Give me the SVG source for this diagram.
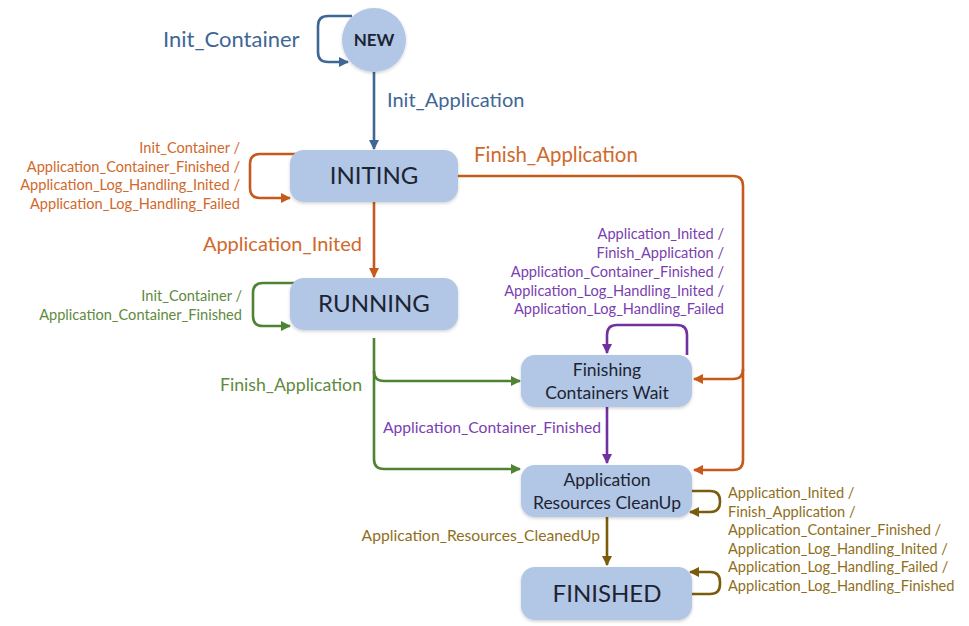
<svg xmlns="http://www.w3.org/2000/svg" width="969" height="626" viewBox="0 0 969 626">
<style>
text{font-family:Lato,"Liberation Sans",sans-serif}
.node{fill:#b2c6e5;filter:url(#sh)}
.nt{fill:#1c2433;text-anchor:middle}
.big{font-size:24px}
.mid{font-size:17.5px}
.e{fill:none;stroke-width:2.6;stroke-linejoin:round}
.blue{stroke:#3e6796}
.orange{stroke:#c55a1a}
.green{stroke:#4f8334}
.purple{stroke:#7030a0}
.brown{stroke:#7a5c0c}
.tb{fill:#3e6796}
.to{fill:#d0692c}
.tg{fill:#5e8b3e}
.tp{fill:#7a40b0}
.tw{fill:#8f6f1c}
.s{font-size:14.6px}
.r{text-anchor:end}
</style>
<defs>
<filter id="sh" x="-10%" y="-10%" width="120%" height="130%"><feDropShadow dx="0" dy="1.5" stdDeviation="1.5" flood-color="#000" flood-opacity="0.18"/></filter>
<marker id="ab" viewBox="0 0 10 10" refX="9" refY="5" markerWidth="4" markerHeight="4" orient="auto" markerUnits="strokeWidth"><path d="M0,0 L10,5 L0,10 z" fill="#3e6796"/></marker>
<marker id="ao" viewBox="0 0 10 10" refX="9" refY="5" markerWidth="4" markerHeight="4" orient="auto" markerUnits="strokeWidth"><path d="M0,0 L10,5 L0,10 z" fill="#c55a1a"/></marker>
<marker id="ag" viewBox="0 0 10 10" refX="9" refY="5" markerWidth="4" markerHeight="4" orient="auto" markerUnits="strokeWidth"><path d="M0,0 L10,5 L0,10 z" fill="#4f8334"/></marker>
<marker id="ap" viewBox="0 0 10 10" refX="9" refY="5" markerWidth="4" markerHeight="4" orient="auto" markerUnits="strokeWidth"><path d="M0,0 L10,5 L0,10 z" fill="#7030a0"/></marker>
<marker id="aw" viewBox="0 0 10 10" refX="9" refY="5" markerWidth="4" markerHeight="4" orient="auto" markerUnits="strokeWidth"><path d="M0,0 L10,5 L0,10 z" fill="#7a5c0c"/></marker>
</defs>
<g id="connectors">
<path class="e blue" d="M352 16 L328 16 Q318 16 318 26 L318 52 Q318 62 328 62 L348 62" marker-end="url(#ab)"/>
<path class="e blue" d="M374 72 L374 149" marker-end="url(#ab)"/>
<path class="e orange" d="M296 154 L260 154 Q250 154 250 164 L250 188 Q250 198 260 198 L290 198" marker-end="url(#ao)"/>
<path class="e orange" d="M374 202 L374 277" marker-end="url(#ao)"/>
<path class="e orange" d="M458 176 L733 176 Q743 176 743 186 L743 460 Q743 470 733 470 L694 470" marker-end="url(#ao)"/>
<path class="e orange" d="M743 369 Q743 379 733 379 L694 379" marker-end="url(#ao)"/>
<path class="e green" d="M296 283 L263 283 Q253 283 253 293 L253 316 Q253 326 263 326 L290 326" marker-end="url(#ag)"/>
<path class="e green" d="M374 338 L374 459 Q374 469 384 469 L520 469" marker-end="url(#ag)"/>
<path class="e green" d="M374 371 Q374 381 384 381 L520 381" marker-end="url(#ag)"/>
<path class="e purple" d="M687 355 L687 335 Q687 325 677 325 L617 325 Q607 325 607 335 L607 353" marker-end="url(#ap)"/>
<path class="e purple" d="M607 407 L607 463" marker-end="url(#ap)"/>
<path class="e brown" d="M692 491 L710 491 Q720 491 720 501 L720 502 Q720 512 710 512 L690 512" marker-end="url(#aw)"/>
<path class="e brown" d="M607 517 L607 565" marker-end="url(#aw)"/>
<path class="e brown" d="M692 594 L710 594 Q720 594 720 584 L720 582 Q720 572 710 572 L690 572" marker-end="url(#aw)"/>
<text class="tb" x="163" y="47" font-size="22">Init_Container</text>
<text class="tb" x="387" y="107" font-size="20">Init_Application</text>
<text class="to s r" x="240" y="153">Init_Container /</text>
<text class="to s r" x="240" y="172">Application_Container_Finished /</text>
<text class="to s r" x="240" y="190">Application_Log_Handling_Inited /</text>
<text class="to s r" x="240" y="209">Application_Log_Handling_Failed</text>
<text class="to" x="474" y="162" font-size="20.4">Finish_Application</text>
<text class="to r" x="362" y="251" font-size="20">Application_Inited</text>
<text class="tg s r" x="242" y="301">Init_Container /</text>
<text class="tg s r" x="242" y="320">Application_Container_Finished</text>
<text class="tg r" x="362" y="391" font-size="17.7">Finish_Application</text>
<text class="tp s r" x="724" y="239">Application_Inited /</text>
<text class="tp s r" x="724" y="258">Finish_Application /</text>
<text class="tp s r" x="724" y="277">Application_Container_Finished /</text>
<text class="tp s r" x="724" y="296">Application_Log_Handling_Inited /</text>
<text class="tp s r" x="724" y="314">Application_Log_Handling_Failed</text>
<text class="tp r" x="601" y="433" font-size="15.7">Application_Container_Finished</text>
<text class="tw r" x="600" y="541" font-size="15.7">Application_Resources_CleanedUp</text>
<text class="tw s" x="728" y="498">Application_Inited /</text>
<text class="tw s" x="728" y="517">Finish_Application /</text>
<text class="tw s" x="728" y="535">Application_Container_Finished /</text>
<text class="tw s" x="728" y="554">Application_Log_Handling_Inited /</text>
<text class="tw s" x="728" y="572">Application_Log_Handling_Failed /</text>
<text class="tw s" x="728" y="591">Application_Log_Handling_Finished</text>
</g>
<g id="new"><circle class="node" cx="374" cy="40" r="32"/><text class="nt" x="374" y="46" font-size="17" font-weight="bold">NEW</text></g>
<g id="initing"><rect class="node" x="290" y="150" width="168" height="52" rx="14"/><text class="nt big" x="374" y="184">INITING</text></g>
<g id="running"><rect class="node" x="290" y="278" width="168" height="52" rx="14"/><text class="nt big" x="374" y="312">RUNNING</text></g>
<g id="finishing"><rect class="node" x="521" y="355" width="171" height="52" rx="14"/><text class="nt mid" x="607" y="376">Finishing</text><text class="nt mid" x="607" y="399">Containers Wait</text></g>
<g id="cleanup"><rect class="node" x="521" y="465" width="171" height="52" rx="14"/><text class="nt mid" x="607" y="486">Application</text><text class="nt mid" x="607" y="509">Resources CleanUp</text></g>
<g id="finished"><rect class="node" x="521" y="567" width="171" height="53" rx="14"/><text class="nt big" x="607" y="602">FINISHED</text></g>
</svg>
